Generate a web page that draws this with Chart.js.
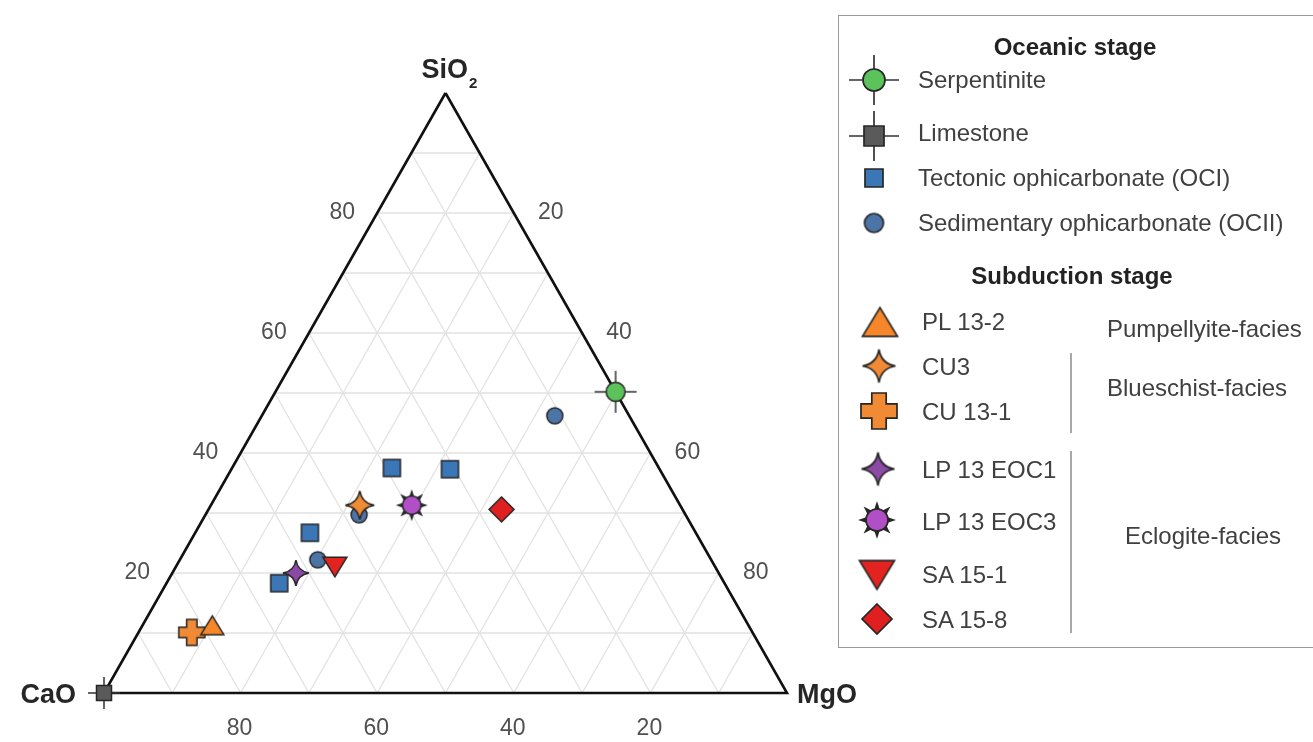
<!DOCTYPE html>
<html>
<head>
<meta charset="utf-8">
<title>Ternary SiO2 – CaO – MgO</title>
<script src="https://cdn.jsdelivr.net/npm/chart.js@4/dist/chart.umd.min.js"></script>
<style>
html,body{margin:0;padding:0;background:#fff;}
#wrap{position:relative;width:1313px;height:742px;overflow:hidden;font-family:"Liberation Sans",Arial,Helvetica,sans-serif;}
#chart{position:absolute;left:0;top:0;}
#legendBox{position:absolute;left:838px;top:15px;width:490px;height:633px;border:1.5px solid #9a9a9a;box-sizing:border-box;}
.lg-h{position:absolute;font-weight:bold;font-size:24px;color:#222;transform:translate(-50%,-50%);white-space:nowrap;line-height:1;}
.lg-t{position:absolute;font-size:24px;color:#404040;transform:translateY(-50%);white-space:nowrap;line-height:1;}
.lg-i{position:absolute;transform:translate(-50%,-50%);}
.lg-v{position:absolute;width:2px;background:#a8a8a8;}
</style>
</head>
<body>
<div id="wrap">
<canvas id="chart" width="1313" height="742"></canvas>
<div id="legendBox"></div>
</div>
<script>
// ---------- data (wt%: [SiO2, CaO, MgO]) ----------
const vertexLabels = ['SiO', 'CaO', 'MgO'];
const tickLabels = [20, 40, 60, 80];
const gridSteps = [10, 20, 30, 40, 50, 60, 70, 80, 90];

const serpentinite    = [[50.2, 0, 49.8]];
const limestone       = [[0, 100, 0]];
const tectonicOCI     = [[37.5, 39.1, 23.4], [37.3, 30.7, 32.0], [26.7, 56.5, 16.8], [18.3, 65.2, 16.5]];
const sedimentaryOCII = [[46.2, 10.9, 42.9], [22.2, 57.6, 20.2], [29.7, 47.8, 22.5]];
const pl13_2   = [[11.3, 78.5, 10.2]];
const cu3      = [[31.3, 46.9, 21.8]];
const cu13_1   = [[10.1, 82.1, 7.8]];
const lp13eoc1 = [[20.0, 61.9, 18.1]];
const lp13eoc3 = [[31.3, 39.3, 29.4]];
const sa15_1   = [[21.0, 55.7, 23.3]];
const sa15_8   = [[30.6, 26.5, 42.9]];

const seriesLabels = ['Serpentinite', 'Limestone', 'Tectonic ophicarbonate (OCI)', 'Sedimentary ophicarbonate (OCII)',
  'PL 13-2', 'CU3', 'CU 13-1', 'LP 13 EOC1', 'LP 13 EOC3', 'SA 15-1', 'SA 15-8'];
const seriesData = [serpentinite, limestone, tectonicOCI, sedimentaryOCII, pl13_2, cu3, cu13_1, lp13eoc1, lp13eoc3, sa15_1, sa15_8];

const legendHeaders = ['Oceanic stage', 'Subduction stage'];
const faciesLabels = ['Pumpellyite-facies', 'Blueschist-facies', 'Eclogite-facies'];

// ---------- ternary -> cartesian ----------
function toXY(t) {
  const s = t[0] + t[1] + t[2];
  const S = t[0] / s * 100, M = t[2] / s * 100;
  return { x: M + S / 2, y: S };
}

// ---------- marker styles ----------
const STROKE = '#262626';
const styles = [
  { kind: 'circleCross', fill: '#5cc35c', chart: { d: 42, c: 19 }, legend: { d: 50, c: 22 }, order: 2 },
  { kind: 'squareCross', fill: '#5a5a5a', chart: { d: 32, c: 15 }, legend: { d: 50, c: 20 }, order: 2 },
  { kind: 'square',  fill: '#3b76b6', chart: { d: 17 }, legend: { d: 18 }, order: 10 },
  { kind: 'circle',  fill: '#4c74a6', chart: { d: 16 }, legend: { d: 19 }, order: 10 },
  { kind: 'triUp',   fill: '#f5862a', chart: { d: 23 }, legend: { d: 35 }, order: 3 },
  { kind: 'star4',   fill: '#f08a35', chart: { d: 29 }, legend: { d: 33 }, order: 3 },
  { kind: 'plus',    fill: '#f08a35', chart: { d: 26 }, legend: { d: 36 }, order: 4 },
  { kind: 'star4',   fill: '#8b4aa3', chart: { d: 26 }, legend: { d: 33 }, order: 3 },
  { kind: 'sun',     fill: '#b04fc6', chart: { d: 32 }, legend: { d: 38 }, order: 3 },
  { kind: 'triDown', fill: '#e3231f', chart: { d: 24 }, legend: { d: 35 }, order: 3 },
  { kind: 'diamond', fill: '#e02020', chart: { d: 25 }, legend: { d: 30 }, order: 3 }
];

function makeSymbol(kind, dims, fill, lw) {
  const d = dims.d, r = d / 2;
  const size = Math.ceil(d + 8);
  const cv = document.createElement('canvas');
  cv.width = size; cv.height = size;
  const g = cv.getContext('2d');
  g.translate(size / 2, size / 2);
  g.lineWidth = lw; g.strokeStyle = STROKE; g.fillStyle = fill; g.lineJoin = 'miter'; g.miterLimit = 6;
  const poly = pts => { g.beginPath(); pts.forEach((p, i) => i ? g.lineTo(p[0], p[1]) : g.moveTo(p[0], p[1])); g.closePath(); g.fill(); g.stroke(); };
  switch (kind) {
    case 'circleCross':
    case 'squareCross': {
      g.beginPath(); g.moveTo(-r, 0); g.lineTo(r, 0); g.moveTo(0, -r); g.lineTo(0, r);
      g.strokeStyle = '#333'; g.lineWidth = lw; g.stroke(); g.strokeStyle = STROKE;
      const c = dims.c;
      if (kind === 'circleCross') { g.beginPath(); g.arc(0, 0, c / 2, 0, Math.PI * 2); g.fill(); g.stroke(); }
      else { g.beginPath(); g.rect(-c / 2, -c / 2, c, c); g.fill(); g.stroke(); }
      break;
    }
    case 'square': g.beginPath(); g.rect(-r, -r, d, d); g.fill(); g.stroke(); break;
    case 'circle': g.beginPath(); g.arc(0, 0, r, 0, Math.PI * 2); g.fill(); g.stroke(); break;
    case 'triUp': { const h = 0.82 * d; poly([[0, -h / 2], [r, h / 2], [-r, h / 2]]); break; }
    case 'triDown': { const h = 0.82 * d; poly([[0, h / 2], [r, -h / 2], [-r, -h / 2]]); break; }
    case 'diamond': poly([[0, -r], [r, 0], [0, r], [-r, 0]]); break;
    case 'star4': {
      const tips = [[0, -r], [r, 0], [0, r], [-r, 0]];
      const k = 0.14 * r;
      const ctrl = [[k, -k], [k, k], [-k, k], [-k, -k]];
      g.beginPath(); g.moveTo(tips[0][0], tips[0][1]);
      for (let i = 0; i < 4; i++) {
        const nx = tips[(i + 1) % 4];
        g.quadraticCurveTo(ctrl[i][0], ctrl[i][1], nx[0], nx[1]);
      }
      g.closePath(); g.fill(); g.stroke();
      break;
    }
    case 'plus': {
      const a = 0.2 * d;
      poly([[-a, -r], [a, -r], [a, -a], [r, -a], [r, a], [a, a], [a, r], [-a, r], [-a, a], [-r, a], [-r, -a], [-a, -a]]);
      break;
    }
    case 'sun': {
      for (let k = 0; k < 8; k++) {
        const a = k * Math.PI / 4;
        const ca = Math.cos(a), sa = Math.sin(a), w = 0.09 * d;
        g.beginPath();
        g.moveTo(ca * r * 0.45 - sa * w, sa * r * 0.45 + ca * w);
        g.lineTo(ca * r, sa * r);
        g.lineTo(ca * r * 0.45 + sa * w, sa * r * 0.45 - ca * w);
        g.closePath();
        g.fillStyle = STROKE; g.fill();
      }
      g.fillStyle = fill;
      g.beginPath(); g.arc(0, 0, r * 0.58, 0, Math.PI * 2); g.fill(); g.stroke();
      break;
    }
  }
  return cv;
}

// ---------- datasets ----------
const datasets = [];
seriesData.forEach((arr, i) => {
  const st = styles[i];
  datasets.push({
    label: seriesLabels[i],
    data: arr.map(toXY),
    pointStyle: makeSymbol(st.kind, st.chart, st.fill, 1.5),
    pointRadius: 6,
    showLine: false,
    clip: false,
    order: st.order
  });
});
const gridColor = '#e2e2e2';
gridSteps.forEach(v => {
  [[toXY([v, 100 - v, 0]), toXY([v, 0, 100 - v])],
   [toXY([100 - v, v, 0]), toXY([0, v, 100 - v])],
   [toXY([100 - v, 0, v]), toXY([0, 100 - v, v])]].forEach(seg => {
    datasets.push({ data: seg, showLine: true, pointRadius: 0, borderColor: gridColor, borderWidth: 1.3, clip: false, order: 100 });
  });
});
datasets.push({
  data: [toXY([100, 0, 0]), toXY([0, 100, 0]), toXY([0, 0, 100]), toXY([100, 0, 0])],
  showLine: true, pointRadius: 0, borderColor: '#111', borderWidth: 2.6, borderJoinStyle: 'miter', clip: false, order: 50
});

// ---------- labels plugin ----------
const ternaryLabels = {
  id: 'ternaryLabels',
  afterDatasetsDraw(chart) {
    const ctx = chart.ctx, sx = chart.scales.x, sy = chart.scales.y;
    const P = t => { const q = toXY(t); return { x: sx.getPixelForValue(q.x), y: sy.getPixelForValue(q.y) }; };
    ctx.save();
    ctx.font = '23px "Liberation Sans", Arial, sans-serif';
    ctx.fillStyle = '#505050';
    ctx.textAlign = 'center'; ctx.textBaseline = 'middle';
    tickLabels.forEach(v => {
      let p = P([v, 100 - v, 0]); ctx.fillText(String(v), p.x - 35, p.y);
      p = P([100 - v, 0, v]); ctx.fillText(String(v), p.x + 37, p.y);
      p = P([0, v, 100 - v]); ctx.fillText(String(v), p.x - 1, p.y + 36);
    });
    const top = P([100, 0, 0]), left = P([0, 100, 0]), right = P([0, 0, 100]);
    ctx.fillStyle = '#262626';
    ctx.font = 'bold 27px "Liberation Sans", Arial, sans-serif';
    ctx.textAlign = 'right'; ctx.fillText(vertexLabels[1], left.x - 28, left.y + 3);
    ctx.textAlign = 'left'; ctx.fillText(vertexLabels[2], right.x + 10, right.y + 3);
    const x0 = top.x - 24;
    ctx.fillText(vertexLabels[0], x0, top.y - 22);
    const w = ctx.measureText(vertexLabels[0]).width;
    ctx.font = 'bold 15px "Liberation Sans", Arial, sans-serif';
    ctx.fillText('2', x0 + w + 1, top.y - 9);
    ctx.restore();
  }
};

new Chart(document.getElementById('chart'), {
  type: 'scatter',
  data: { datasets },
  options: {
    responsive: false,
    animation: false,
    events: [],
    layout: { padding: { left: 104, right: 526, top: 93, bottom: 49 } },
    scales: {
      x: { type: 'linear', min: 0, max: 100, display: false },
      y: { type: 'linear', min: 0, max: 100, display: false }
    },
    plugins: { legend: { display: false }, tooltip: { enabled: false } }
  },
  plugins: [ternaryLabels]
});

// ---------- HTML legend ----------
const wrap = document.getElementById('wrap');
function addEl(cls, text, css) {
  const e = document.createElement('div');
  e.className = cls; if (text !== null) e.textContent = text;
  Object.assign(e.style, css); wrap.appendChild(e); return e;
}
const legendLayout = [
  { ix: 874, iy: 80,  tx: 918, ty: 80 },
  { ix: 874, iy: 136, tx: 918, ty: 133 },
  { ix: 874, iy: 178, tx: 918, ty: 178 },
  { ix: 874, iy: 223, tx: 918, ty: 223 },
  { ix: 880, iy: 322, tx: 922, ty: 322 },
  { ix: 879, iy: 366, tx: 922, ty: 367 },
  { ix: 879, iy: 411, tx: 922, ty: 412 },
  { ix: 878, iy: 469, tx: 922, ty: 470 },
  { ix: 877, iy: 520, tx: 922, ty: 522 },
  { ix: 877, iy: 575, tx: 922, ty: 575 },
  { ix: 877, iy: 619, tx: 922, ty: 620 }
];
addEl('lg-h', legendHeaders[0], { left: '1075px', top: '47px' });
addEl('lg-h', legendHeaders[1], { left: '1072px', top: '276px' });
seriesLabels.forEach((lab, i) => {
  const L = legendLayout[i], st = styles[i];
  const cv = makeSymbol(st.kind, st.legend, st.fill, 1.7);
  cv.className = 'lg-i'; cv.style.left = L.ix + 'px'; cv.style.top = L.iy + 'px';
  wrap.appendChild(cv);
  addEl('lg-t', lab, { left: L.tx + 'px', top: L.ty + 'px' });
});
addEl('lg-t', faciesLabels[0], { left: '1107px', top: '329px' });
addEl('lg-t', faciesLabels[1], { left: '1107px', top: '388px' });
addEl('lg-t', faciesLabels[2], { left: '1125px', top: '536px' });
addEl('lg-v', null, { left: '1070px', top: '353px', height: '80px' });
addEl('lg-v', null, { left: '1070px', top: '451px', height: '182px' });
</script>
</body>
</html>
